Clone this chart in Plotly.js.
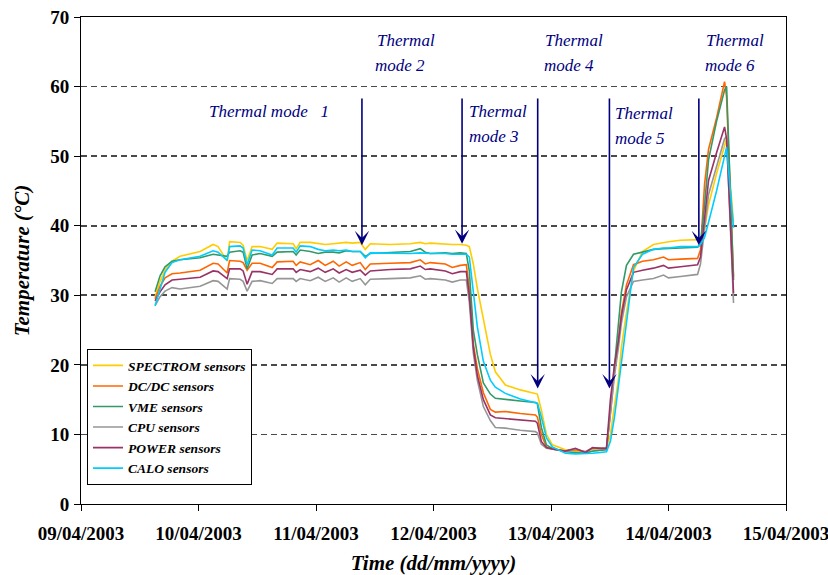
<!DOCTYPE html>
<html><head><meta charset="utf-8">
<script src="https://cdn.plot.ly/plotly-3.0.1.min.js"></script>
<style>html,body{margin:0;padding:0;background:#fff}#chart{width:828px;height:575px}</style>
</head><body><div id="chart"></div>
<script>
const times = [
'2003-04-09 15:08','2003-04-09 16:09','2003-04-09 17:10','2003-04-09 18:36','2003-04-09 20:14',
'2003-04-10 00:20','2003-04-10 02:59','2003-04-10 04:00','2003-04-10 05:51','2003-04-10 06:21',
'2003-04-10 08:30','2003-04-10 09:07','2003-04-10 09:56','2003-04-10 10:57','2003-04-10 12:35',
'2003-04-10 15:03','2003-04-10 16:04','2003-04-10 19:20','2003-04-10 19:57','2003-04-10 20:46',
'2003-04-10 22:49','2003-04-11 00:27','2003-04-11 01:53','2003-04-11 03:31','2003-04-11 04:44',
'2003-04-11 06:10','2003-04-11 07:24','2003-04-11 09:02','2003-04-11 10:04','2003-04-11 11:05',
'2003-04-11 15:10','2003-04-11 19:16','2003-04-11 21:18','2003-04-11 22:19','2003-04-11 23:21',
'2003-04-12 02:25','2003-04-12 03:50','2003-04-12 05:29','2003-04-12 06:42','2003-04-12 07:19',
'2003-04-12 08:08','2003-04-12 08:57','2003-04-12 10:11','2003-04-12 11:37','2003-04-12 12:38',
'2003-04-12 14:41','2003-04-12 17:44','2003-04-12 20:49','2003-04-12 21:13','2003-04-12 22:02',
'2003-04-12 23:04','2003-04-13 00:17','2003-04-13 02:56','2003-04-13 04:59','2003-04-13 07:02',
'2003-04-13 08:28','2003-04-13 10:06','2003-04-13 11:20','2003-04-13 12:08','2003-04-13 12:58',
'2003-04-13 13:47','2003-04-13 14:23','2003-04-13 15:25','2003-04-13 16:51','2003-04-13 18:41',
'2003-04-13 20:56','2003-04-13 22:59','2003-04-14 00:00','2003-04-14 02:27','2003-04-14 05:56',
'2003-04-14 06:32','2003-04-14 07:22','2003-04-14 08:11','2003-04-14 09:49','2003-04-14 11:27',
'2003-04-14 11:52','2003-04-14 13:17'];

const spectrom = [29.8,32.0,33.6,34.9,35.6, 36.3,37.3,37.0,34.9,37.7, 37.6,37.2,35.0,37.0,37.0,
36.6,37.5,37.4,36.7,37.6, 37.6,37.4,37.3,37.4,37.5, 37.6,37.5,37.6,36.6,37.4,
37.3,37.4,37.6,37.4,37.5, 37.3,37.3,37.3,37.2,37.0, 34.5,31.0,26.5,21.5,19.0,
17.1,16.4,15.9,15.8,13.5, 10.0,8.5,7.8,7.6,7.5, 7.9,8.0,8.0,10.0,14.0,
18.0,22.5,27.5,33.5,36.3, 37.3,37.6,37.7,37.9,37.9, 38.0,39.5,43.0,47.5,51.5, 52.5,40.5];

const dcdc = [29.5,31.3,32.5,33.1,33.2, 33.6,34.6,34.5,33.2,35.0, 34.9,34.7,33.6,34.6,34.6,
34.0,34.8,34.9,34.3,34.8, 34.4,35.0,34.3,34.9,34.2, 34.8,34.3,34.7,33.7,34.5,
34.6,34.7,35.1,34.5,34.7, 34.5,34.0,34.3,34.4,31.0, 23.0,19.5,16.0,13.6,13.2,
13.3,13.0,12.8,12.5,10.0, 8.2,7.9,7.6,7.8,7.5, 8.0,8.0,8.0,13.0,19.0,
23.5,27.5,31.5,34.4,34.9, 35.1,35.5,35.1,35.2,35.3, 36.5,46.0,51.0,55.5,60.7, 58.5,32.7];

const vme = [30.5,32.8,34.1,34.9,35.1, 35.4,35.9,35.8,35.6,36.2, 36.4,36.2,33.8,35.8,36.0,
35.6,36.2,36.3,35.8,36.5, 36.3,36.0,36.2,36.2,36.1, 36.4,36.3,36.3,35.6,36.0,
36.1,36.3,36.7,36.2,36.0, 36.1,36.0,36.1,36.0,33.5, 25.0,21.5,17.4,15.8,15.2,
15.0,14.8,14.6,14.4,11.0, 8.5,8.0,7.5,7.4,7.3, 7.6,7.7,7.8,13.5,20.0,
25.5,30.5,34.3,35.9,36.2, 36.6,36.7,36.7,36.8,36.9, 37.3,43.0,49.5,55.0,59.5, 60.0,32.2];

const cpu = [28.5,29.8,30.6,31.1,30.9, 31.3,32.1,32.0,30.9,32.4, 32.3,32.0,30.6,32.0,32.1,
31.7,32.4,32.4,32.0,32.4, 32.1,32.6,32.0,32.5,31.9, 32.5,32.0,32.4,31.5,32.3,
32.4,32.5,32.8,32.3,32.4, 32.2,31.9,32.2,32.2,29.0, 21.7,17.8,14.0,12.0,11.0,
10.9,10.6,10.4,10.2,8.6, 8.0,7.9,7.6,7.9,7.5, 8.0,8.0,8.0,13.0,18.5,
22.5,26.0,29.8,32.0,32.2, 32.4,32.9,32.5,32.7,33.0, 34.5,40.0,44.5,48.5,52.5, 52.8,28.9];

const power = [29.2,30.5,31.5,32.2,32.3, 32.6,33.5,33.4,32.4,33.8, 33.8,33.5,31.6,33.4,33.4,
33.0,33.8,33.8,33.3,33.7, 33.4,33.9,33.3,33.8,33.2, 33.7,33.3,33.6,32.9,33.5,
33.7,33.8,34.2,33.7,33.8, 33.5,33.1,33.4,33.4,30.0, 22.5,18.5,15.0,12.8,12.4,
12.3,12.1,11.9,11.6,9.0, 8.1,7.9,7.6,8.0,7.4, 8.1,8.0,8.0,15.0,20.0,
23.5,27.0,30.8,33.3,33.6, 33.9,34.3,33.9,34.1,34.4, 35.5,41.5,46.5,50.5,54.2, 52.5,30.3];

const calo = [28.5,31.0,33.3,34.7,35.1, 35.6,36.4,36.2,35.0,37.0, 37.1,36.8,34.4,36.5,36.4,
35.8,36.8,36.8,36.2,37.1, 37.0,36.6,36.4,36.5,36.4, 36.5,36.3,36.3,35.4,36.1,
36.0,36.0,36.1,36.0,36.0, 36.0,35.9,35.9,35.9,35.5, 30.0,25.5,20.5,17.8,16.8,
15.9,15.1,14.6,14.5,12.5, 9.5,8.2,7.3,7.2,7.2, 7.3,7.4,7.5,9.0,12.5,
17.0,20.5,26.5,34.0,35.9, 36.6,36.8,36.8,37.0,37.0, 37.3,38.3,40.5,45.0,50.0, 51.3,39.7];

const seriesNames = ['SPECTROM sensors','DC/DC sensors','VME sensors','CPU sensors','POWER sensors','CALO sensors'];
const seriesValues = [spectrom, dcdc, vme, cpu, power, calo];
const seriesColors = ['#FFCC00','#FF6600','#339966','#969696','#993366','#00CCFF'];

const xTickValues = ['2003-04-09','2003-04-10','2003-04-11','2003-04-12','2003-04-13','2003-04-14','2003-04-15'];
const xTickLabels = ['09/04/2003','10/04/2003','11/04/2003','12/04/2003','13/04/2003','14/04/2003','15/04/2003'];

// thermal-mode arrows: time of arrow, temperature at arrow tip
const modeArrowTimes = ['2003-04-11 09:23','2003-04-12 05:50','2003-04-12 21:17','2003-04-13 11:56','2003-04-14 06:12'];
const modeArrowTips = [37.2, 37.4, 16.6, 16.6, 37.2];
const modeArrowTop = 58.5;

const serif = 'Liberation Serif';
const navy = '#000080';

const traces = seriesNames.map((name, i) => ({
  type: 'scatter', mode: 'lines', name: name,
  x: times, y: seriesValues[i],
  line: {color: seriesColors[i], width: 1.6}
}));

const annotations = [];
modeArrowTimes.forEach((t, i) => {
  annotations.push({
    x: t, y: modeArrowTips[i], xref: 'x', yref: 'y',
    ax: t, ay: modeArrowTop, axref: 'x', ayref: 'y',
    text: '', showarrow: true, arrowhead: 3, arrowsize: 1.5, arrowwidth: 1.6,
    arrowcolor: navy
  });
});
const labelFont = {family: serif, size: 17, color: navy, style: 'italic'};
const labels = [
  ['Thermal mode\u00a0\u00a0 1', 0.1783, 0.8052],
  ['Thermal', 0.4170, 0.9522], ['mode 2', 0.4142, 0.8995],
  ['Thermal', 0.5475, 0.8052], ['mode 3', 0.5475, 0.7539],
  ['Thermal', 0.6549, 0.9522], ['mode 4', 0.6539, 0.8995],
  ['Thermal', 0.7553, 0.8025], ['mode 5', 0.7553, 0.7512],
  ['Thermal', 0.8830, 0.9522], ['mode 6', 0.8823, 0.9009]
];
labels.forEach(l => annotations.push({
  text: l[0], x: l[1], y: l[2], xref: 'paper', yref: 'paper',
  xanchor: 'left', yanchor: 'middle', showarrow: false, font: labelFont
}));

const layout = {
  width: 828, height: 575,
  margin: {l: 81, r: 42, t: 17, b: 71, pad: 0},
  paper_bgcolor: '#ffffff', plot_bgcolor: '#ffffff',
  font: {family: serif, color: '#000'},
  showlegend: true,
  xaxis: {
    type: 'date', range: ['2003-04-09', '2003-04-15'],
    tickmode: 'array', tickvals: xTickValues, ticktext: xTickLabels,
    ticks: 'outside', ticklen: 6, tickwidth: 1, tickcolor: '#000',
    ticklabeloverflow: 'allow', ticklabelstandoff: 6,
    showline: true, linecolor: '#000', linewidth: 1, mirror: true,
    showgrid: false, zeroline: false, automargin: false,
    tickfont: {family: serif, size: 19, weight: 'bold', color: '#000'},
    title: {text: 'Time (dd/mm/yyyy)', standoff: 14,
            font: {family: serif, size: 21, weight: 'bold', style: 'italic', color: '#000'}}
  },
  yaxis: {
    range: [0, 70], dtick: 10, tick0: 0,
    ticks: 'outside', ticklen: 6, tickwidth: 1, tickcolor: '#000',
    ticklabelstandoff: 1,
    showline: true, linecolor: '#000', linewidth: 1, mirror: true,
    showgrid: true, gridcolor: '#4a4a4a', gridwidth: 1.6, griddash: '6px,4px',
    zeroline: false, automargin: false,
    tickfont: {family: serif, size: 19, weight: 'bold', color: '#000'},
    title: {text: 'Temperature (°C)', standoff: 14,
            font: {family: serif, size: 21, weight: 'bold', style: 'italic', color: '#000'}}
  },
  legend: {
    x: 0.0085, y: 0.318, xanchor: 'left', yanchor: 'top',
    bgcolor: '#ffffff', bordercolor: '#000', borderwidth: 1, itemwidth: 30,
    font: {family: serif, size: 13.5, weight: 'bold', style: 'italic', color: '#000'}
  },
  annotations: annotations
};

Plotly.newPlot('chart', traces, layout, {displayModeBar: false, staticPlot: true});
</script>
</body></html>
